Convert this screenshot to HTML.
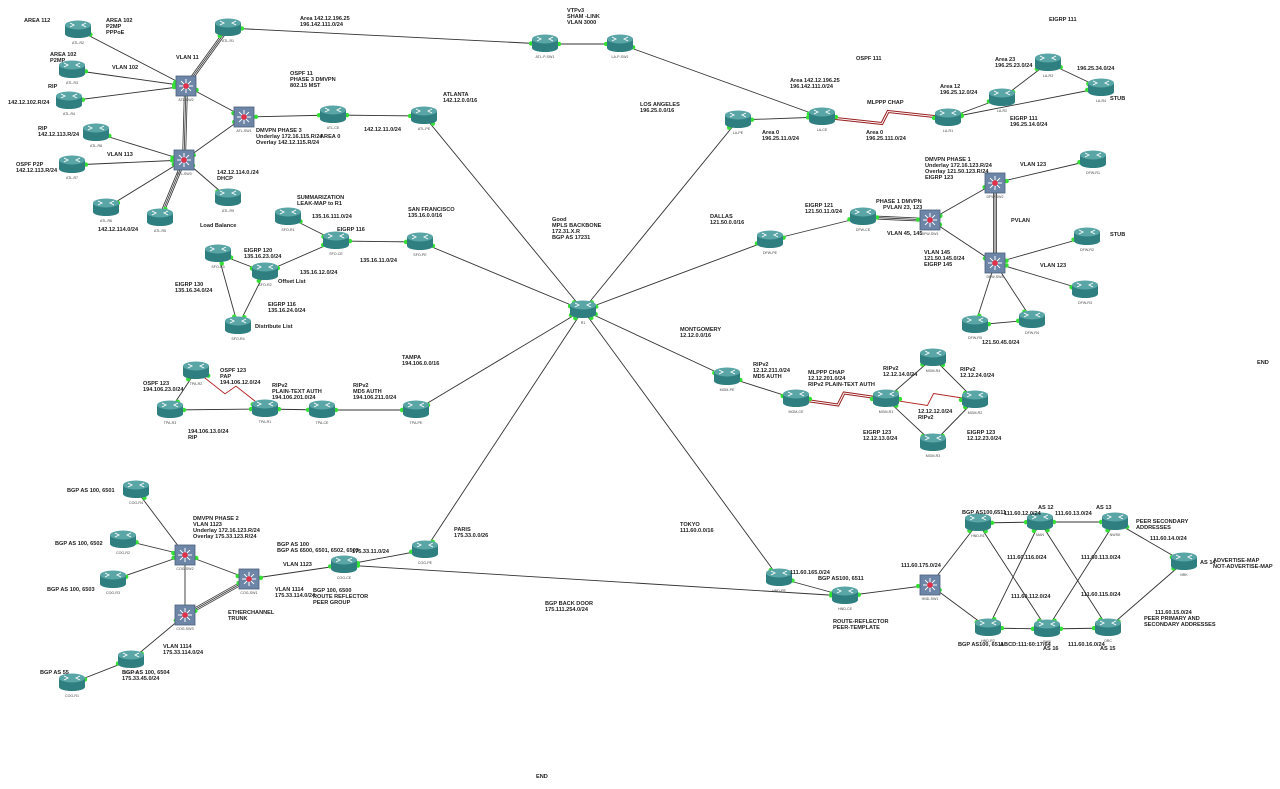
<!DOCTYPE html>
<html><head><meta charset="utf-8"><style>
html,body{margin:0;padding:0;background:#fff;}
svg{display:block}
text{font-family:"Liberation Sans",sans-serif;font-size:5.6px;fill:#222;font-weight:bold}
.n{font-size:3.6px;font-weight:normal;fill:#444}
</style></head><body>
<svg id="s" width="1280" height="789" viewBox="0 0 1280 789" xmlns="http://www.w3.org/2000/svg">
<g id="links"></g><g id="nodes"></g>
<g id="labels">
<text x="24" y="22">AREA 112</text>
<text x="106" y="22">AREA 102</text><text x="106" y="28">P2MP</text><text x="106" y="34">PPPoE</text>
<text x="50" y="56">AREA 102</text><text x="50" y="62">P2MP</text>
<text x="112" y="69">VLAN 102</text>
<text x="176" y="59">VLAN 11</text>
<text x="48" y="88">RIP</text>
<text x="8" y="104">142.12.102.R/24</text>
<text x="38" y="130">RIP</text><text x="38" y="136">142.12.113.R/24</text>
<text x="107" y="156">VLAN 113</text>
<text x="16" y="166">OSPF P2P</text><text x="16" y="172">142.12.113.R/24</text>
<text x="98" y="231">142.12.114.0/24</text>
<text x="217" y="174">142.12.114.0./24</text><text x="217" y="180">DHCP</text>
<text x="300" y="20">Area 142.12.196.25</text><text x="300" y="26">196.142.111.0/24</text>
<text x="290" y="75">OSPF 11</text><text x="290" y="81">PHASE 3 DMVPN</text><text x="290" y="87">802.15 MST</text>
<text x="256" y="132">DMVPN PHASE 3</text><text x="256" y="138">Underlay 172.16.115.R/24</text><text x="256" y="144">Overlay 142.12.115.R/24</text>
<text x="320" y="138">AREA 0</text>
<text x="364" y="131">142.12.11.0/24</text>
<text x="443" y="96">ATLANTA</text><text x="443" y="102">142.12.0.0/16</text>
<text x="567" y="12">VTPv3</text><text x="567" y="18">SHAM -LINK</text><text x="567" y="24">VLAN 3000</text>
<text x="790" y="82">Area 142.12.196.25</text><text x="790" y="88">196.142.111.0/24</text>
<text x="856" y="60">OSPF 111</text>
<text x="640" y="106">LOS ANGELES</text><text x="640" y="112">196.25.0.0/16</text>
<text x="762" y="134">Area 0</text><text x="762" y="140">196.25.11.0/24</text>
<text x="867" y="104">MLPPP CHAP</text>
<text x="866" y="134">Area 0</text><text x="866" y="140">196.25.111.0/24</text>
<text x="940" y="88">Area 12</text><text x="940" y="94">196.25.12.0/24</text>
<text x="995" y="61">Area 23</text><text x="995" y="67">196.25.23.0/24</text>
<text x="1049" y="21">EIGRP 111</text>
<text x="1077" y="70">196.25.34.0/24</text>
<text x="1110" y="100">STUB</text>
<text x="1010" y="120">EIGRP 111</text><text x="1010" y="126">196.25.14.0/24</text>
<text x="925" y="161">DMVPN PHASE 1</text><text x="925" y="167">Underlay 172.16.123.R/24</text><text x="925" y="173">Overlay 121.50.123.R/24</text><text x="925" y="179">EIGRP 123</text>
<text x="1020" y="166">VLAN 123</text>
<text x="876" y="203">PHASE 1 DMVPN</text><text x="883" y="209">PVLAN 23, 123</text>
<text x="805" y="207">EIGRP 121</text><text x="805" y="213">121.50.11.0/24</text>
<text x="710" y="218">DALLAS</text><text x="710" y="224">121.50.0.0/16</text>
<text x="887" y="235">VLAN 45, 145</text>
<text x="1011" y="222">PVLAN</text>
<text x="1110" y="236">STUB</text>
<text x="924" y="254">VLAN 145</text><text x="924" y="260">121.50.145.0/24</text><text x="924" y="266">EIGRP 145</text>
<text x="1040" y="267">VLAN 123</text>
<text x="982" y="344">121.50.45.0/24</text>
<text x="1257" y="364">END</text>
<text x="680" y="331">MONTGOMERY</text><text x="680" y="337">12.12.0.0/16</text>
<text x="753" y="366">RIPv2</text><text x="753" y="372">12.12.211.0/24</text><text x="753" y="378">MD5 AUTH</text>
<text x="808" y="374">MLPPP CHAP</text><text x="808" y="380">12.12.201.0/24</text><text x="808" y="386">RIPv2 PLAIN-TEXT AUTH</text>
<text x="883" y="370">RIPv2</text><text x="883" y="376">12.12.14.0/24</text>
<text x="960" y="371">RIPv2</text><text x="960" y="377">12.12.24.0/24</text>
<text x="918" y="413">12.12.12.0/24</text><text x="918" y="419">RIPv2</text>
<text x="863" y="434">EIGRP 123</text><text x="863" y="440">12.12.13.0/24</text>
<text x="967" y="434">EIGRP 123</text><text x="967" y="440">12.12.23.0/24</text>
<text x="552" y="221">Good</text><text x="552" y="227">MPLS BACKBONE</text><text x="552" y="233">172.31.X.R</text><text x="552" y="239">BGP AS 17231</text>
<text x="297" y="199">SUMMARIZATION</text><text x="297" y="205">LEAK-MAP to R1</text>
<text x="312" y="218">135.16.111.0/24</text>
<text x="337" y="231">EIGRP 116</text>
<text x="408" y="211">SAN FRANCISCO</text><text x="408" y="217">135.16.0.0/16</text>
<text x="200" y="227">Load Balance</text>
<text x="244" y="252">EIGRP 120</text><text x="244" y="258">135.16.23.0/24</text>
<text x="360" y="262">135.16.11.0/24</text>
<text x="300" y="274">135.16.12.0/24</text>
<text x="278" y="283">Offset List</text>
<text x="175" y="286">EIGRP 130</text><text x="175" y="292">135.16.34.0/24</text>
<text x="268" y="306">EIGRP 116</text><text x="268" y="312">135.16.24.0/24</text>
<text x="255" y="328">Distribute List</text>
<text x="402" y="359">TAMPA</text><text x="402" y="365">194.106.0.0/16</text>
<text x="220" y="372">OSPF 123</text><text x="220" y="378">PAP</text><text x="220" y="384">194.106.12.0/24</text>
<text x="143" y="385">OSPF 123</text><text x="143" y="391">194.106.23.0/24</text>
<text x="272" y="387">RIPv2</text><text x="272" y="393">PLAIN-TEXT AUTH</text><text x="272" y="399">194.106.201.0/24</text>
<text x="353" y="387">RIPv2</text><text x="353" y="393">MD5 AUTH</text><text x="353" y="399">194.106.211.0/24</text>
<text x="188" y="433">194.106.13.0/24</text><text x="188" y="439">RIP</text>
<text x="67" y="492">BGP AS 100, 6501</text>
<text x="193" y="520">DMVPN PHASE 2</text><text x="193" y="526">VLAN 1123</text><text x="193" y="532">Underlay 172.16.123.R/24</text><text x="193" y="538">Overlay 175.33.123.R/24</text>
<text x="55" y="545">BGP AS 100, 6502</text>
<text x="47" y="591">BGP AS 100, 6503</text>
<text x="277" y="546">BGP AS 100</text><text x="277" y="552">BGP AS 6500, 6501, 6502, 6503</text>
<text x="352" y="553">175.33.11.0/24</text>
<text x="454" y="531">PARIS</text><text x="454" y="537">175.33.0.0/26</text>
<text x="283" y="566">VLAN 1123</text>
<text x="275" y="591">VLAN 1114</text><text x="275" y="597">175.33.114.0/24</text>
<text x="313" y="592">BGP 100, 6500</text><text x="313" y="598">ROUTE REFLECTOR</text><text x="313" y="604">PEER GROUP</text>
<text x="228" y="614">ETHERCHANNEL</text><text x="228" y="620">TRUNK</text>
<text x="163" y="648">VLAN 1114</text><text x="163" y="654">175.33.114.0/24</text>
<text x="40" y="674">BGP AS 55</text>
<text x="122" y="674">BGP AS 100, 6504</text><text x="122" y="680">175.33.45.0/24</text>
<text x="545" y="605">BGP BACK DOOR</text><text x="545" y="611">175.111.254.0/24</text>
<text x="680" y="526">TOKYO</text><text x="680" y="532">111.60.0.0/16</text>
<text x="790" y="574">111.60.165.0/24</text>
<text x="818" y="580">BGP AS100, 6511</text>
<text x="901" y="567">111.60.175.0/24</text>
<text x="833" y="623">ROUTE-REFLECTOR</text><text x="833" y="629">PEER-TEMPLATE</text>
<text x="962" y="514">BGP AS100,6511</text>
<text x="1004" y="515">111.60.12.0/24</text>
<text x="1038" y="509">AS 12</text>
<text x="1055" y="515">111.60.13.0/24</text>
<text x="1096" y="509">AS 13</text>
<text x="1136" y="523">PEER SECONDARY</text><text x="1136" y="529">ADDRESSES</text>
<text x="1150" y="540">111.60.14.0/24</text>
<text x="1007" y="559">111.60.116.0/24</text>
<text x="1081" y="559">111.60.113.0/24</text>
<text x="1200" y="564">AS 14</text>
<text x="1213" y="562">ADVERTISE-MAP</text><text x="1213" y="568">NOT-ADVERTISE-MAP</text>
<text x="1011" y="598">111.60.112.0/24</text>
<text x="1081" y="596">111.60.115.0/24</text>
<text x="1155" y="614">111.60.15.0/24</text>
<text x="1144" y="620">PEER PRIMARY AND</text><text x="1144" y="626">SECONDARY ADDRESSES</text>
<text x="958" y="646">BGP AS100, 6511</text>
<text x="1000" y="646">ABCD:111:60:17/64</text>
<text x="1043" y="650">AS 16</text>
<text x="1068" y="646">111.60.16.0/24</text>
<text x="1100" y="650">AS 15</text>
<text x="536" y="778">END</text>
</g>
</svg>
<script>
var N={
"ATL-R2":[78,30],"ATL-R1":[228,28],"ATL-R3":[72,70],"ATL-R4":[69,101],"ATL-SW2":[186,86,1],"ATL-SW1":[244,117,1],"ATL-CE":[333,115],"ATL-PE":[424,116],"ATL-R8":[96,133],"ATL-SW3":[184,160,1],"ATL-R7":[72,165],"ATL-R6":[106,208],"ATL-R5":[160,218],"ATL-R9":[228,198],
"ATL-P-SW1":[545,44],"LA-P-SW1":[620,44],"LA-PE":[738,120],"LA-CE":[822,117],"LA-R1":[948,118],"LA-R2":[1002,98],"LA-R3":[1048,63],"LA-R4":[1101,88],
"DFW-SW2":[995,183,1],"DFW-R1":[1093,160],"DFW-SW1":[930,220,1],"DFW-CE":[863,217],"DFW-PE":[770,240],"DFW-SW3":[995,263,1],"DFW-R2":[1087,237],"DFW-R3":[1085,290],"DFW-R5":[975,325],"DFW-R4":[1032,320],
"R1":[583,310],
"SFO-R1":[288,217],"SFO-CE":[336,241],"SFO-PE":[420,242],"SFO-R3":[218,254],"SFO-R2":[265,272],"SFO-R4":[238,326],
"TPA-R2":[196,371],"TPA-R3":[170,410],"TPA-R1":[265,409],"TPA-CE":[322,410],"TPA-PE":[416,410],
"MGM-PE":[727,377],"MGM-CE":[796,399],"MGM-R1":[886,399],"MGM-R4":[933,358],"MGM-R2":[975,400],"MGM-R3":[933,443],
"COG-R4":[136,490],"COG-R2":[123,540],"COG-SW2":[185,555,1],"COG-R3":[113,580],"COG-SW1":[249,579,1],"COG-SW3":[185,615,1],"COG-CE":[344,565],"COG-PE":[425,550],"COG-R0":[131,660],"COG-R1":[72,683],
"HND-PE":[779,578],"HND-CE":[845,596],"HND-SW1":[930,585,1],"HND-R1":[978,523],"HND-R2":[988,628],"MAN":[1040,522],"NWSK":[1115,522],"PHR":[1047,629],"ORC":[1108,628],"NRK":[1184,562]};
var L=[
["ATL-R2","ATL-SW2"],["ATL-R1","ATL-SW2",2],["ATL-R3","ATL-SW2"],["ATL-R4","ATL-SW2"],["ATL-SW2","ATL-SW3",2],["ATL-SW2","ATL-SW1"],["ATL-SW1","ATL-SW3"],["ATL-SW1","ATL-CE"],["ATL-CE","ATL-PE"],["ATL-R8","ATL-SW3"],["ATL-R7","ATL-SW3"],["ATL-R6","ATL-SW3"],["ATL-R5","ATL-SW3",2],["ATL-R9","ATL-SW3"],
["ATL-R1","ATL-P-SW1"],["ATL-P-SW1","LA-P-SW1"],["LA-P-SW1","LA-CE"],["LA-PE","LA-CE"],["LA-CE","LA-R1",3],["LA-R1","LA-R2"],["LA-R2","LA-R3"],["LA-R3","LA-R4"],["LA-R1","LA-R4"],
["ATL-PE","R1"],["LA-PE","R1"],["DFW-PE","R1"],["SFO-PE","R1"],["TPA-PE","R1"],["MGM-PE","R1"],["HND-PE","R1"],["COG-PE","R1"],
["DFW-PE","DFW-CE"],["DFW-CE","DFW-SW1",2],["DFW-SW1","DFW-SW2"],["DFW-SW2","DFW-SW3",2],["DFW-SW1","DFW-SW3"],["DFW-SW2","DFW-R1"],["DFW-SW3","DFW-R2"],["DFW-SW3","DFW-R3"],["DFW-SW3","DFW-R5"],["DFW-SW3","DFW-R4"],["DFW-R5","DFW-R4"],
["SFO-R1","SFO-CE"],["SFO-R3","SFO-R2"],["SFO-R2","SFO-CE"],["SFO-CE","SFO-PE"],["SFO-R3","SFO-R4"],["SFO-R2","SFO-R4"],
["TPA-R2","TPA-R3"],["TPA-R2","TPA-R1",4],["TPA-R3","TPA-R1"],["TPA-R1","TPA-CE"],["TPA-CE","TPA-PE"],
["MGM-PE","MGM-CE"],["MGM-CE","MGM-R1",3],["MGM-R1","MGM-R4"],["MGM-R4","MGM-R2"],["MGM-R1","MGM-R2",4],["MGM-R1","MGM-R3"],["MGM-R3","MGM-R2"],
["COG-R4","COG-SW2"],["COG-R2","COG-SW2"],["COG-R3","COG-SW2"],["COG-SW2","COG-SW1"],["COG-SW2","COG-SW3"],["COG-SW3","COG-SW1",2],["COG-SW1","COG-CE"],["COG-CE","COG-PE"],["COG-SW3","COG-R0"],["COG-R0","COG-R1"],["COG-CE","HND-CE"],
["HND-PE","HND-CE"],["HND-CE","HND-SW1"],["HND-SW1","HND-R1"],["HND-SW1","HND-R2"],["HND-R1","MAN"],["MAN","NWSK"],["HND-R2","PHR"],["PHR","ORC"],["HND-R1","PHR"],["MAN","HND-R2"],["MAN","ORC"],["NWSK","PHR"],["NWSK","NRK"],["ORC","NRK"]];
var NS="http://www.w3.org/2000/svg",lg=document.getElementById("links"),ng=document.getElementById("nodes");
function el(p,t,a){var e=document.createElementNS(NS,t);for(var k in a)e.setAttribute(k,a[k]);p.appendChild(e);return e;}
L.forEach(function(l){var a=N[l[0]],b=N[l[1]],dx=b[0]-a[0],dy=b[1]-a[1],d=Math.hypot(dx,dy),ux=dx/d,uy=dy/d,px=-uy,py=ux,t=l[2]||1;
 if(t==2){[-1.5,0,1.5].forEach(function(o){el(lg,"line",{x1:a[0]+px*o,y1:a[1]+py*o,x2:b[0]+px*o,y2:b[1]+py*o,stroke:"#333","stroke-width":0.8});});}
 else if(t==3||t==4){var mx=(a[0]+b[0])/2,my=(a[1]+b[1])/2,z=6;
  var pts=[a[0],a[1],mx-ux*3+px*z,my-uy*3+py*z,mx+ux*3-px*z,my+uy*3-py*z,b[0],b[1]].join(" ");
  if(t==3){el(lg,"polyline",{points:pts,fill:"none",stroke:"#9a2020","stroke-width":3});el(lg,"polyline",{points:pts,fill:"none",stroke:"#fff","stroke-width":1});}
  else el(lg,"polyline",{points:pts,fill:"none",stroke:"#b02020","stroke-width":0.9});}
 else el(lg,"line",{x1:a[0],y1:a[1],x2:b[0],y2:b[1],stroke:"#333","stroke-width":0.9});
 var r1=a[2]?12:14,r2=b[2]?12:14;
 el(lg,"circle",{cx:a[0]+ux*r1,cy:a[1]+uy*r1*0.7,r:2.2,fill:"#33e033"});
 el(lg,"circle",{cx:b[0]-ux*r2,cy:b[1]-uy*r2*0.7,r:2.2,fill:"#33e033"});});
for(var k in N){var n=N[k],x=n[0],y=n[1];
 if(n[2]){el(ng,"rect",{x:x-10,y:y-10,width:20,height:20,fill:"#6d86a8",stroke:"#4a5f7c","stroke-width":0.8});
  for(var i=0;i<4;i++){var an=i*Math.PI/4;el(ng,"line",{x1:x-7*Math.cos(an),y1:y-7*Math.sin(an),x2:x+7*Math.cos(an),y2:y+7*Math.sin(an),stroke:"#fff","stroke-width":1});}
  el(ng,"circle",{cx:x,cy:y,r:2.8,fill:"#e0304a"});}
 else{el(ng,"rect",{x:x-13,y:y-5,width:26,height:9,fill:"#2f7f80"});
  el(ng,"ellipse",{cx:x,cy:y+4,rx:13,ry:4,fill:"#2f7f80"});
  el(ng,"ellipse",{cx:x,cy:y-5,rx:13,ry:4.5,fill:"#5aa5a6"});
  el(ng,"path",{d:"M"+(x-8)+" "+(y-7)+"l4 2 -4 2 M"+(x+8)+" "+(y-7)+"l-4 2 4 2",stroke:"#fff","stroke-width":0.9,fill:"none"});}
 var t=el(ng,"text",{x:x,y:y+(n[2]?15:14),"text-anchor":"middle","class":"n"});t.textContent=k;}
</script>
</body></html>
